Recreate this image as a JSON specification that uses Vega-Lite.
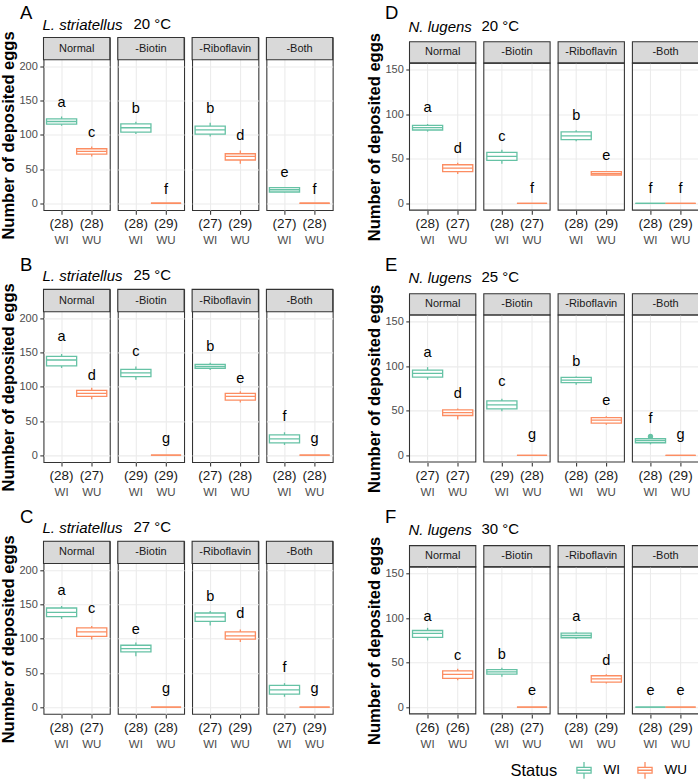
{
"$schema": "https://vega.github.io/schema/vega-lite/v6.json",
"background": "white",
"padding": {"left": 0.5, "top": 3.5, "right": 0, "bottom": 0},
"data": {"name": "boxes"},
"datasets": {"boxes": [
{"panel":"A","treatment":"Normal","status":"WI","n":28,"min":113.4,"q1":115.8,"median":119.7,"q3":123.6,"max":127,"label_y":146.5,"letter":"a"},
{"panel":"A","treatment":"Normal","status":"WU","n":28,"min":68.6,"q1":72,"median":75.9,"q3":79.8,"max":83.2,"label_y":103,"letter":"c"},
{"panel":"A","treatment":"-Biotin","status":"WI","n":28,"min":101.2,"q1":104.1,"median":110.5,"q3":116.3,"max":119.2,"label_y":138,"letter":"b"},
{"panel":"A","treatment":"-Biotin","status":"WU","n":29,"min":0,"q1":0,"median":0,"q3":0,"max":0,"label_y":20,"letter":"f"},
{"panel":"A","treatment":"-Riboflavin","status":"WI","n":27,"min":97.8,"q1":101.2,"median":107.5,"q3":112.9,"max":117.8,"label_y":138,"letter":"b"},
{"panel":"A","treatment":"-Riboflavin","status":"WU","n":29,"min":57.9,"q1":63.3,"median":68.6,"q3":72.5,"max":77.4,"label_y":98.8,"letter":"d"},
{"panel":"A","treatment":"-Both","status":"WI","n":27,"min":16,"q1":16.5,"median":19.8,"q3":22.9,"max":23.5,"label_y":43.8,"letter":"e"},
{"panel":"A","treatment":"-Both","status":"WU","n":28,"min":0,"q1":0,"median":0,"q3":0,"max":0,"label_y":20,"letter":"f"},
{"panel":"B","treatment":"Normal","status":"WI","n":28,"min":127.7,"q1":130.6,"median":139.3,"q3":144.7,"max":148.1,"label_y":172.3,"letter":"a"},
{"panel":"B","treatment":"Normal","status":"WU","n":27,"min":82,"q1":85.9,"median":90.3,"q3":94.7,"max":98.5,"label_y":116.5,"letter":"d"},
{"panel":"B","treatment":"-Biotin","status":"WI","n":29,"min":110.2,"q1":115,"median":120.4,"q3":125.7,"max":129.6,"label_y":151.5,"letter":"c"},
{"panel":"B","treatment":"-Biotin","status":"WU","n":29,"min":0,"q1":0,"median":0,"q3":0,"max":0,"label_y":24.3,"letter":"g"},
{"panel":"B","treatment":"-Riboflavin","status":"WI","n":27,"min":124.8,"q1":127.2,"median":130,"q3":133,"max":135.4,"label_y":157.8,"letter":"b"},
{"panel":"B","treatment":"-Riboflavin","status":"WU","n":28,"min":77.2,"q1":80.6,"median":85.9,"q3":90.3,"max":93.7,"label_y":112.1,"letter":"e"},
{"panel":"B","treatment":"-Both","status":"WI","n":28,"min":15,"q1":18,"median":23.8,"q3":29.6,"max":33.5,"label_y":55.8,"letter":"f"},
{"panel":"B","treatment":"-Both","status":"WU","n":28,"min":0,"q1":0,"median":0,"q3":0,"max":0,"label_y":24.3,"letter":"g"},
{"panel":"C","treatment":"Normal","status":"WI","n":28,"min":129,"q1":132.4,"median":138.7,"q3":145,"max":147.9,"label_y":169.3,"letter":"a"},
{"panel":"C","treatment":"Normal","status":"WU","n":27,"min":98.8,"q1":103.6,"median":110,"q3":115.8,"max":118.7,"label_y":143.6,"letter":"c"},
{"panel":"C","treatment":"-Biotin","status":"WI","n":28,"min":74.5,"q1":80.8,"median":85.6,"q3":90.5,"max":94.4,"label_y":113.4,"letter":"e"},
{"panel":"C","treatment":"-Biotin","status":"WU","n":28,"min":0,"q1":0,"median":0,"q3":0,"max":0,"label_y":25.8,"letter":"g"},
{"panel":"C","treatment":"-Riboflavin","status":"WI","n":27,"min":119.2,"q1":125.5,"median":131.9,"q3":137.7,"max":140.6,"label_y":160.6,"letter":"b"},
{"panel":"C","treatment":"-Riboflavin","status":"WU","n":29,"min":95.4,"q1":99.3,"median":104.1,"q3":110,"max":113.4,"label_y":136.3,"letter":"d"},
{"panel":"C","treatment":"-Both","status":"WI","n":27,"min":15.1,"q1":19,"median":25.3,"q3":31.6,"max":35,"label_y":57.4,"letter":"f"},
{"panel":"C","treatment":"-Both","status":"WU","n":29,"min":0,"q1":0,"median":0,"q3":0,"max":0,"label_y":25.8,"letter":"g"},
{"panel":"D","treatment":"Normal","status":"WI","n":28,"min":80.6,"q1":82.4,"median":85,"q3":87.6,"max":89.1,"label_y":106.6,"letter":"a"},
{"panel":"D","treatment":"Normal","status":"WU","n":27,"min":33,"q1":35.6,"median":39.7,"q3":43.4,"max":45.7,"label_y":61.3,"letter":"d"},
{"panel":"D","treatment":"-Biotin","status":"WI","n":28,"min":44.6,"q1":48.3,"median":52.7,"q3":57.2,"max":60.2,"label_y":74.3,"letter":"c"},
{"panel":"D","treatment":"-Biotin","status":"WU","n":27,"min":0,"q1":0,"median":0,"q3":0,"max":0,"label_y":16.3,"letter":"f"},
{"panel":"D","treatment":"-Riboflavin","status":"WI","n":28,"min":69.8,"q1":71.7,"median":75.8,"q3":80.2,"max":82.1,"label_y":97.7,"letter":"b"},
{"panel":"D","treatment":"-Riboflavin","status":"WU","n":29,"min":31.5,"q1":31.9,"median":33.5,"q3":35.6,"max":36,"label_y":52.7,"letter":"e"},
{"panel":"D","treatment":"-Both","status":"WI","n":28,"min":0,"q1":0,"median":0,"q3":0,"max":0,"label_y":16.3,"letter":"f"},
{"panel":"D","treatment":"-Both","status":"WU","n":29,"min":0,"q1":0,"median":0,"q3":0,"max":0,"label_y":16.3,"letter":"f"},
{"panel":"E","treatment":"Normal","status":"WI","n":27,"min":84.9,"q1":87.8,"median":91.9,"q3":95.6,"max":99,"label_y":114.3,"letter":"a"},
{"panel":"E","treatment":"Normal","status":"WU","n":27,"min":40.2,"q1":44.7,"median":48,"q3":51,"max":52.5,"label_y":69.2,"letter":"d"},
{"panel":"E","treatment":"-Biotin","status":"WI","n":29,"min":49.5,"q1":52.1,"median":56.6,"q3":61,"max":63.6,"label_y":81.9,"letter":"c"},
{"panel":"E","treatment":"-Biotin","status":"WU","n":28,"min":0,"q1":0,"median":0,"q3":0,"max":0,"label_y":22.7,"letter":"g"},
{"panel":"E","treatment":"-Riboflavin","status":"WI","n":28,"min":79.3,"q1":81.5,"median":84.5,"q3":87.5,"max":88.6,"label_y":105.3,"letter":"b"},
{"panel":"E","treatment":"-Riboflavin","status":"WU","n":28,"min":34.2,"q1":36.1,"median":39.4,"q3":42.4,"max":43.9,"label_y":60.7,"letter":"e"},
{"panel":"E","treatment":"-Both","status":"WI","n":28,"min":12.3,"q1":14.1,"median":16.5,"q3":18.6,"max":18.9,"outlier":21.2,"label_y":41.3,"letter":"f"},
{"panel":"E","treatment":"-Both","status":"WU","n":29,"min":0,"q1":0,"median":0,"q3":0,"max":0,"label_y":22.7,"letter":"g"},
{"panel":"F","treatment":"Normal","status":"WI","n":26,"min":75,"q1":78.4,"median":82.8,"q3":86.1,"max":89.1,"label_y":101.7,"letter":"a"},
{"panel":"F","treatment":"Normal","status":"WU","n":26,"min":30.4,"q1":32.3,"median":36.8,"q3":40.8,"max":43.1,"label_y":57.9,"letter":"c"},
{"panel":"F","treatment":"-Biotin","status":"WI","n":28,"min":34.2,"q1":37.1,"median":39.7,"q3":42.3,"max":44.2,"label_y":59,"letter":"b"},
{"panel":"F","treatment":"-Biotin","status":"WU","n":27,"min":0,"q1":0,"median":0,"q3":0,"max":0,"label_y":17.8,"letter":"e"},
{"panel":"F","treatment":"-Riboflavin","status":"WI","n":28,"min":76.5,"q1":78,"median":80.5,"q3":83.2,"max":84.7,"label_y":101.7,"letter":"a"},
{"panel":"F","treatment":"-Riboflavin","status":"WU","n":29,"min":26.7,"q1":28.2,"median":31.9,"q3":35.3,"max":37.1,"label_y":52.4,"letter":"d"},
{"panel":"F","treatment":"-Both","status":"WI","n":28,"min":0,"q1":0,"median":0,"q3":0,"max":0,"label_y":17.8,"letter":"e"},
{"panel":"F","treatment":"-Both","status":"WU","n":29,"min":0,"q1":0,"median":0,"q3":0,"max":0,"label_y":17.8,"letter":"e"}
]},
"config": {
 "font": "Liberation Sans",
 "view": {"stroke": "#333333", "strokeWidth": 1.07},
 "title": {"color": "black", "fontWeight": "normal", "font": "Liberation Sans"},
 "axisY": {"domain": false, "grid": true, "gridColor": "#ebebeb", "tickColor": "#333333", "tickSize": 3.7, "tickWidth": 1.07, "labelColor": "#4d4d4d", "labelFontSize": 11, "labelPadding": 2.5, "labelOverlap": false, "titleFontSize": 16.5, "titleFontWeight": "bold", "titleColor": "black", "titlePadding": 2},
 "axisX": {"domain": false, "tickColor": "#333333", "tickSize": 3.7, "tickWidth": 1.07, "labelColor": "#4d4d4d", "labelFontSize": 11.5, "labelPadding": 20.5, "labelAngle": 0}
},
"spacing": 8.9,
"vconcat": [
{"hconcat": [
 {"title": {"text": "A", "anchor": "start", "frame": "bounds", "fontSize": 18.5, "dx": 19, "offset": -5.9},
  "vconcat": [{
   "title": {"text": "20 °C", "anchor": "start", "frame": "group", "fontSize": 15, "baseline": "bottom", "dx": 90, "offset": -29},
   "transform": [{"filter": "datum.panel == 'A'"}],
   "facet": {"column": {"field": "treatment", "type": "nominal", "sort": ["Normal","-Biotin","-Riboflavin","-Both"], "header": {"title": "L. striatellus", "labels": false, "titleFontStyle": "italic", "titleAnchor": "start", "titleAlign": "left", "titleFontSize": 15, "titleFontWeight": "normal", "titleColor": "black", "titleBaseline": "bottom", "titlePadding": -20}}},
   "spacing": 7.3, "bounds": "flush",
   "spec": {"width": 66.3, "height": 172.6, "layer": [
    {"transform": [{"filter": "datum.status == 'WI'"}], "mark": {"type": "rect", "fill": "#d9d9d9", "stroke": "#333333", "strokeWidth": 1.07},
     "encoding": {"y": {"datum": 210, "type": "quantitative", "scale": {"domain": [-10, 242.6], "nice": false, "zero": false}, "axis": {"title": "Number of deposited eggs", "titleY": 97.5, "values": [0,25,50,75,100,125,150,175,200], "labelExpr": "datum.value % 50 == 0 ? datum.label : ''", "gridWidth": {"condition": {"test": "datum.value % 50 == 0", "value": 1.07}, "value": 0.55}, "tickOpacity": {"condition": {"test": "datum.value % 50 == 0", "value": 1}, "value": 0}}}, "y2": {"datum": 242.6}}},
    {"transform": [{"filter": "datum.status == 'WI'"}], "mark": {"type": "text", "fontSize": 11, "color": "#1a1a1a", "baseline": "middle"},
     "encoding": {"y": {"datum": 226.3, "type": "quantitative"}, "text": {"field": "treatment"}}},
    {"mark": {"type": "rule", "strokeWidth": 1.3},
     "encoding": {"x": {"field": "status", "type": "nominal", "scale": {"domain": ["WI","WU"], "paddingInner": 0, "paddingOuter": 0.1}, "axis": {"title": null, "bandPosition": 0.5, "grid": true, "gridColor": "#ebebeb", "gridWidth": 1.07, "tickExtra": false}}, "y": {"field": "min", "type": "quantitative"}, "y2": {"field": "max"}, "stroke": {"field": "status", "type": "nominal", "scale": {"domain": ["WI","WU"], "range": ["#66c2a5","#fc8d62"]}, "legend": {"title": "Status", "orient": "none", "legendX": 467, "legendY": 723, "direction": "horizontal", "titleOrient": "left", "titleFontSize": 16.5, "titleFontWeight": "normal", "titleColor": "black", "titlePadding": 17, "labelFontSize": 13.5, "labelColor": "black", "symbolType": "M-0.85,-0.35H0.85V0.35H-0.85Z M-0.85,0H0.85 M0,-1V-0.35 M0,0.35V1", "symbolSize": 279, "symbolStrokeWidth": 1.3, "symbolFillColor": "white", "columnPadding": 14, "labelOffset": 10}}}},
    {"mark": {"type": "bar", "fill": "white", "strokeWidth": 1.3},
     "encoding": {"x": {"field": "status", "type": "nominal"}, "y": {"field": "q1", "type": "quantitative"}, "y2": {"field": "q3"}, "stroke": {"field": "status", "type": "nominal"}}},
    {"mark": {"type": "bar", "fill": "transparent", "strokeWidth": 1.3},
     "encoding": {"x": {"field": "status", "type": "nominal"}, "y": {"field": "median", "type": "quantitative"}, "y2": {"field": "median"}, "stroke": {"field": "status", "type": "nominal"}}},
    {"mark": {"type": "circle", "color": "#66c2a5", "opacity": 1, "size": 28},
     "encoding": {"x": {"field": "status", "type": "nominal"}, "y": {"field": "outlier", "type": "quantitative"}}},
    {"mark": {"type": "text", "fontSize": 14.5, "color": "black", "baseline": "middle"},
     "encoding": {"x": {"field": "status", "type": "nominal"}, "y": {"field": "label_y", "type": "quantitative"}, "text": {"field": "letter"}}},
    {"transform": [{"calculate": "'(' + datum.n + ')'", "as": "n_label"}], "mark": {"type": "text", "fontSize": 13.5, "color": "#1a1a1a", "baseline": "middle", "dy": 13.9},
     "encoding": {"x": {"field": "status", "type": "nominal"}, "y": {"datum": -10, "type": "quantitative"}, "text": {"field": "n_label"}}}
   ]}
  }]},
 {"title": {"text": "D", "anchor": "start", "frame": "bounds", "fontSize": 18.5, "dx": 18, "offset": -4.3},
  "vconcat": [{
   "title": {"text": "20 °C", "anchor": "start", "frame": "group", "fontSize": 15, "baseline": "bottom", "dx": 72, "offset": -29},
   "transform": [{"filter": "datum.panel == 'D'"}],
   "facet": {"column": {"field": "treatment", "type": "nominal", "sort": ["Normal","-Biotin","-Riboflavin","-Both"], "header": {"title": "N. lugens", "labels": false, "titleFontStyle": "italic", "titleAnchor": "start", "titleAlign": "left", "titleFontSize": 15, "titleFontWeight": "normal", "titleColor": "black", "titleBaseline": "bottom", "titlePadding": -22}}},
   "spacing": 7.3, "bounds": "flush",
   "spec": {"width": 66.3, "height": 172.6, "view": {"stroke": null}, "layer": [
    {"transform": [{"filter": "datum.status == 'WI'"}], "mark": {"type": "rect", "fill": "#d9d9d9", "stroke": "#333333", "strokeWidth": 1.07},
     "encoding": {"y": {"datum": 157.5, "type": "quantitative", "scale": {"domain": [-7.5, 186.23], "nice": false, "zero": false}, "axis": {"title": "Number of deposited eggs", "titleY": 99.1, "values": [0,25,50,75,100,125,150], "labelExpr": "datum.value % 50 == 0 ? datum.label : ''", "gridWidth": {"condition": {"test": "datum.value % 50 == 0", "value": 1.07}, "value": 0.55}, "tickOpacity": {"condition": {"test": "datum.value % 50 == 0", "value": 1}, "value": 0}}}, "y2": {"datum": 181.4}}},
    {"transform": [{"filter": "datum.status == 'WI'"}], "mark": {"type": "text", "fontSize": 11, "color": "#1a1a1a", "baseline": "middle"},
     "encoding": {"y": {"datum": 169.45, "type": "quantitative"}, "text": {"field": "treatment"}}},
    {"mark": {"type": "rule", "color": "#ebebeb", "strokeWidth": 1.07},
     "encoding": {"x": {"field": "status", "type": "nominal", "scale": {"domain": ["WI","WU"], "paddingInner": 0, "paddingOuter": 0.1}, "axis": {"title": null, "bandPosition": 0.5, "grid": false, "tickExtra": false}}, "y": {"datum": -7.5, "type": "quantitative"}, "y2": {"datum": 157.5}}},
    {"mark": {"type": "rule", "strokeWidth": 1.3},
     "encoding": {"x": {"field": "status", "type": "nominal"}, "y": {"field": "min", "type": "quantitative"}, "y2": {"field": "max"}, "stroke": {"field": "status", "type": "nominal"}}},
    {"mark": {"type": "bar", "fill": "white", "strokeWidth": 1.3},
     "encoding": {"x": {"field": "status", "type": "nominal"}, "y": {"field": "q1", "type": "quantitative"}, "y2": {"field": "q3"}, "stroke": {"field": "status", "type": "nominal"}}},
    {"mark": {"type": "bar", "fill": "transparent", "strokeWidth": 1.3},
     "encoding": {"x": {"field": "status", "type": "nominal"}, "y": {"field": "median", "type": "quantitative"}, "y2": {"field": "median"}, "stroke": {"field": "status", "type": "nominal"}}},
    {"mark": {"type": "circle", "color": "#66c2a5", "opacity": 1, "size": 28},
     "encoding": {"x": {"field": "status", "type": "nominal"}, "y": {"field": "outlier", "type": "quantitative"}}},
    {"mark": {"type": "text", "fontSize": 14.5, "color": "black", "baseline": "middle"},
     "encoding": {"x": {"field": "status", "type": "nominal"}, "y": {"field": "label_y", "type": "quantitative"}, "text": {"field": "letter"}}},
    {"transform": [{"calculate": "'(' + datum.n + ')'", "as": "n_label"}], "mark": {"type": "text", "fontSize": 13.5, "color": "#1a1a1a", "baseline": "middle", "dy": 13.9},
     "encoding": {"x": {"field": "status", "type": "nominal"}, "y": {"datum": -7.5, "type": "quantitative"}, "text": {"field": "n_label"}}},
    {"transform": [{"filter": "datum.status == 'WI'"}], "mark": {"type": "rect", "fill": "transparent", "stroke": "#333333", "strokeWidth": 1.07},
     "encoding": {"y": {"datum": -7.5, "type": "quantitative"}, "y2": {"datum": 157.5}}}
   ]}
  }]}
], "spacing": 32},
{"hconcat": [
 {"title": {"text": "B", "anchor": "start", "frame": "bounds", "fontSize": 18.5, "dx": 19, "offset": -5.9},
  "vconcat": [{
   "title": {"text": "25 °C", "anchor": "start", "frame": "group", "fontSize": 15, "baseline": "bottom", "dx": 90, "offset": -29},
   "transform": [{"filter": "datum.panel == 'B'"}],
   "facet": {"column": {"field": "treatment", "type": "nominal", "sort": ["Normal","-Biotin","-Riboflavin","-Both"], "header": {"title": "L. striatellus", "labels": false, "titleFontStyle": "italic", "titleAnchor": "start", "titleAlign": "left", "titleFontSize": 15, "titleFontWeight": "normal", "titleColor": "black", "titleBaseline": "bottom", "titlePadding": -20}}},
   "spacing": 7.3, "bounds": "flush",
   "spec": {"width": 66.3, "height": 172.6, "layer": [
    {"transform": [{"filter": "datum.status == 'WI'"}], "mark": {"type": "rect", "fill": "#d9d9d9", "stroke": "#333333", "strokeWidth": 1.07},
     "encoding": {"y": {"datum": 210, "type": "quantitative", "scale": {"domain": [-10, 242.6], "nice": false, "zero": false}, "axis": {"title": "Number of deposited eggs", "titleY": 97.5, "values": [0,25,50,75,100,125,150,175,200], "labelExpr": "datum.value % 50 == 0 ? datum.label : ''", "gridWidth": {"condition": {"test": "datum.value % 50 == 0", "value": 1.07}, "value": 0.55}, "tickOpacity": {"condition": {"test": "datum.value % 50 == 0", "value": 1}, "value": 0}}}, "y2": {"datum": 242.6}}},
    {"transform": [{"filter": "datum.status == 'WI'"}], "mark": {"type": "text", "fontSize": 11, "color": "#1a1a1a", "baseline": "middle"},
     "encoding": {"y": {"datum": 226.3, "type": "quantitative"}, "text": {"field": "treatment"}}},
    {"mark": {"type": "rule", "strokeWidth": 1.3},
     "encoding": {"x": {"field": "status", "type": "nominal", "scale": {"domain": ["WI","WU"], "paddingInner": 0, "paddingOuter": 0.1}, "axis": {"title": null, "bandPosition": 0.5, "grid": true, "gridColor": "#ebebeb", "gridWidth": 1.07, "tickExtra": false}}, "y": {"field": "min", "type": "quantitative"}, "y2": {"field": "max"}, "stroke": {"field": "status", "type": "nominal"}}},
    {"mark": {"type": "bar", "fill": "white", "strokeWidth": 1.3},
     "encoding": {"x": {"field": "status", "type": "nominal"}, "y": {"field": "q1", "type": "quantitative"}, "y2": {"field": "q3"}, "stroke": {"field": "status", "type": "nominal"}}},
    {"mark": {"type": "bar", "fill": "transparent", "strokeWidth": 1.3},
     "encoding": {"x": {"field": "status", "type": "nominal"}, "y": {"field": "median", "type": "quantitative"}, "y2": {"field": "median"}, "stroke": {"field": "status", "type": "nominal"}}},
    {"mark": {"type": "circle", "color": "#66c2a5", "opacity": 1, "size": 28},
     "encoding": {"x": {"field": "status", "type": "nominal"}, "y": {"field": "outlier", "type": "quantitative"}}},
    {"mark": {"type": "text", "fontSize": 14.5, "color": "black", "baseline": "middle"},
     "encoding": {"x": {"field": "status", "type": "nominal"}, "y": {"field": "label_y", "type": "quantitative"}, "text": {"field": "letter"}}},
    {"transform": [{"calculate": "'(' + datum.n + ')'", "as": "n_label"}], "mark": {"type": "text", "fontSize": 13.5, "color": "#1a1a1a", "baseline": "middle", "dy": 13.9},
     "encoding": {"x": {"field": "status", "type": "nominal"}, "y": {"datum": -10, "type": "quantitative"}, "text": {"field": "n_label"}}}
   ]}
  }]},
 {"title": {"text": "E", "anchor": "start", "frame": "bounds", "fontSize": 18.5, "dx": 18, "offset": -4.3},
  "vconcat": [{
   "title": {"text": "25 °C", "anchor": "start", "frame": "group", "fontSize": 15, "baseline": "bottom", "dx": 72, "offset": -29},
   "transform": [{"filter": "datum.panel == 'E'"}],
   "facet": {"column": {"field": "treatment", "type": "nominal", "sort": ["Normal","-Biotin","-Riboflavin","-Both"], "header": {"title": "N. lugens", "labels": false, "titleFontStyle": "italic", "titleAnchor": "start", "titleAlign": "left", "titleFontSize": 15, "titleFontWeight": "normal", "titleColor": "black", "titleBaseline": "bottom", "titlePadding": -22}}},
   "spacing": 7.3, "bounds": "flush",
   "spec": {"width": 66.3, "height": 172.6, "view": {"stroke": null}, "layer": [
    {"transform": [{"filter": "datum.status == 'WI'"}], "mark": {"type": "rect", "fill": "#d9d9d9", "stroke": "#333333", "strokeWidth": 1.07},
     "encoding": {"y": {"datum": 157.5, "type": "quantitative", "scale": {"domain": [-7.5, 186.23], "nice": false, "zero": false}, "axis": {"title": "Number of deposited eggs", "titleY": 99.1, "values": [0,25,50,75,100,125,150], "labelExpr": "datum.value % 50 == 0 ? datum.label : ''", "gridWidth": {"condition": {"test": "datum.value % 50 == 0", "value": 1.07}, "value": 0.55}, "tickOpacity": {"condition": {"test": "datum.value % 50 == 0", "value": 1}, "value": 0}}}, "y2": {"datum": 181.4}}},
    {"transform": [{"filter": "datum.status == 'WI'"}], "mark": {"type": "text", "fontSize": 11, "color": "#1a1a1a", "baseline": "middle"},
     "encoding": {"y": {"datum": 169.45, "type": "quantitative"}, "text": {"field": "treatment"}}},
    {"mark": {"type": "rule", "color": "#ebebeb", "strokeWidth": 1.07},
     "encoding": {"x": {"field": "status", "type": "nominal", "scale": {"domain": ["WI","WU"], "paddingInner": 0, "paddingOuter": 0.1}, "axis": {"title": null, "bandPosition": 0.5, "grid": false, "tickExtra": false}}, "y": {"datum": -7.5, "type": "quantitative"}, "y2": {"datum": 157.5}}},
    {"mark": {"type": "rule", "strokeWidth": 1.3},
     "encoding": {"x": {"field": "status", "type": "nominal"}, "y": {"field": "min", "type": "quantitative"}, "y2": {"field": "max"}, "stroke": {"field": "status", "type": "nominal"}}},
    {"mark": {"type": "bar", "fill": "white", "strokeWidth": 1.3},
     "encoding": {"x": {"field": "status", "type": "nominal"}, "y": {"field": "q1", "type": "quantitative"}, "y2": {"field": "q3"}, "stroke": {"field": "status", "type": "nominal"}}},
    {"mark": {"type": "bar", "fill": "transparent", "strokeWidth": 1.3},
     "encoding": {"x": {"field": "status", "type": "nominal"}, "y": {"field": "median", "type": "quantitative"}, "y2": {"field": "median"}, "stroke": {"field": "status", "type": "nominal"}}},
    {"mark": {"type": "circle", "color": "#66c2a5", "opacity": 1, "size": 28},
     "encoding": {"x": {"field": "status", "type": "nominal"}, "y": {"field": "outlier", "type": "quantitative"}}},
    {"mark": {"type": "text", "fontSize": 14.5, "color": "black", "baseline": "middle"},
     "encoding": {"x": {"field": "status", "type": "nominal"}, "y": {"field": "label_y", "type": "quantitative"}, "text": {"field": "letter"}}},
    {"transform": [{"calculate": "'(' + datum.n + ')'", "as": "n_label"}], "mark": {"type": "text", "fontSize": 13.5, "color": "#1a1a1a", "baseline": "middle", "dy": 13.9},
     "encoding": {"x": {"field": "status", "type": "nominal"}, "y": {"datum": -7.5, "type": "quantitative"}, "text": {"field": "n_label"}}},
    {"transform": [{"filter": "datum.status == 'WI'"}], "mark": {"type": "rect", "fill": "transparent", "stroke": "#333333", "strokeWidth": 1.07},
     "encoding": {"y": {"datum": -7.5, "type": "quantitative"}, "y2": {"datum": 157.5}}}
   ]}
  }]}
], "spacing": 32},
{"hconcat": [
 {"title": {"text": "C", "anchor": "start", "frame": "bounds", "fontSize": 18.5, "dx": 19, "offset": -5.9},
  "vconcat": [{
   "title": {"text": "27 °C", "anchor": "start", "frame": "group", "fontSize": 15, "baseline": "bottom", "dx": 90, "offset": -29},
   "transform": [{"filter": "datum.panel == 'C'"}],
   "facet": {"column": {"field": "treatment", "type": "nominal", "sort": ["Normal","-Biotin","-Riboflavin","-Both"], "header": {"title": "L. striatellus", "labels": false, "titleFontStyle": "italic", "titleAnchor": "start", "titleAlign": "left", "titleFontSize": 15, "titleFontWeight": "normal", "titleColor": "black", "titleBaseline": "bottom", "titlePadding": -20}}},
   "spacing": 7.3, "bounds": "flush",
   "spec": {"width": 66.3, "height": 172.6, "layer": [
    {"transform": [{"filter": "datum.status == 'WI'"}], "mark": {"type": "rect", "fill": "#d9d9d9", "stroke": "#333333", "strokeWidth": 1.07},
     "encoding": {"y": {"datum": 210, "type": "quantitative", "scale": {"domain": [-10, 242.6], "nice": false, "zero": false}, "axis": {"title": "Number of deposited eggs", "titleY": 97.5, "values": [0,25,50,75,100,125,150,175,200], "labelExpr": "datum.value % 50 == 0 ? datum.label : ''", "gridWidth": {"condition": {"test": "datum.value % 50 == 0", "value": 1.07}, "value": 0.55}, "tickOpacity": {"condition": {"test": "datum.value % 50 == 0", "value": 1}, "value": 0}}}, "y2": {"datum": 242.6}}},
    {"transform": [{"filter": "datum.status == 'WI'"}], "mark": {"type": "text", "fontSize": 11, "color": "#1a1a1a", "baseline": "middle"},
     "encoding": {"y": {"datum": 226.3, "type": "quantitative"}, "text": {"field": "treatment"}}},
    {"mark": {"type": "rule", "strokeWidth": 1.3},
     "encoding": {"x": {"field": "status", "type": "nominal", "scale": {"domain": ["WI","WU"], "paddingInner": 0, "paddingOuter": 0.1}, "axis": {"title": null, "bandPosition": 0.5, "grid": true, "gridColor": "#ebebeb", "gridWidth": 1.07, "tickExtra": false}}, "y": {"field": "min", "type": "quantitative"}, "y2": {"field": "max"}, "stroke": {"field": "status", "type": "nominal"}}},
    {"mark": {"type": "bar", "fill": "white", "strokeWidth": 1.3},
     "encoding": {"x": {"field": "status", "type": "nominal"}, "y": {"field": "q1", "type": "quantitative"}, "y2": {"field": "q3"}, "stroke": {"field": "status", "type": "nominal"}}},
    {"mark": {"type": "bar", "fill": "transparent", "strokeWidth": 1.3},
     "encoding": {"x": {"field": "status", "type": "nominal"}, "y": {"field": "median", "type": "quantitative"}, "y2": {"field": "median"}, "stroke": {"field": "status", "type": "nominal"}}},
    {"mark": {"type": "circle", "color": "#66c2a5", "opacity": 1, "size": 28},
     "encoding": {"x": {"field": "status", "type": "nominal"}, "y": {"field": "outlier", "type": "quantitative"}}},
    {"mark": {"type": "text", "fontSize": 14.5, "color": "black", "baseline": "middle"},
     "encoding": {"x": {"field": "status", "type": "nominal"}, "y": {"field": "label_y", "type": "quantitative"}, "text": {"field": "letter"}}},
    {"transform": [{"calculate": "'(' + datum.n + ')'", "as": "n_label"}], "mark": {"type": "text", "fontSize": 13.5, "color": "#1a1a1a", "baseline": "middle", "dy": 13.9},
     "encoding": {"x": {"field": "status", "type": "nominal"}, "y": {"datum": -10, "type": "quantitative"}, "text": {"field": "n_label"}}}
   ]}
  }]},
 {"title": {"text": "F", "anchor": "start", "frame": "bounds", "fontSize": 18.5, "dx": 18, "offset": -4.3},
  "vconcat": [{
   "title": {"text": "30 °C", "anchor": "start", "frame": "group", "fontSize": 15, "baseline": "bottom", "dx": 72, "offset": -29},
   "transform": [{"filter": "datum.panel == 'F'"}],
   "facet": {"column": {"field": "treatment", "type": "nominal", "sort": ["Normal","-Biotin","-Riboflavin","-Both"], "header": {"title": "N. lugens", "labels": false, "titleFontStyle": "italic", "titleAnchor": "start", "titleAlign": "left", "titleFontSize": 15, "titleFontWeight": "normal", "titleColor": "black", "titleBaseline": "bottom", "titlePadding": -22}}},
   "spacing": 7.3, "bounds": "flush",
   "spec": {"width": 66.3, "height": 172.6, "view": {"stroke": null}, "layer": [
    {"transform": [{"filter": "datum.status == 'WI'"}], "mark": {"type": "rect", "fill": "#d9d9d9", "stroke": "#333333", "strokeWidth": 1.07},
     "encoding": {"y": {"datum": 157.5, "type": "quantitative", "scale": {"domain": [-7.5, 186.23], "nice": false, "zero": false}, "axis": {"title": "Number of deposited eggs", "titleY": 99.1, "values": [0,25,50,75,100,125,150], "labelExpr": "datum.value % 50 == 0 ? datum.label : ''", "gridWidth": {"condition": {"test": "datum.value % 50 == 0", "value": 1.07}, "value": 0.55}, "tickOpacity": {"condition": {"test": "datum.value % 50 == 0", "value": 1}, "value": 0}}}, "y2": {"datum": 181.4}}},
    {"transform": [{"filter": "datum.status == 'WI'"}], "mark": {"type": "text", "fontSize": 11, "color": "#1a1a1a", "baseline": "middle"},
     "encoding": {"y": {"datum": 169.45, "type": "quantitative"}, "text": {"field": "treatment"}}},
    {"mark": {"type": "rule", "color": "#ebebeb", "strokeWidth": 1.07},
     "encoding": {"x": {"field": "status", "type": "nominal", "scale": {"domain": ["WI","WU"], "paddingInner": 0, "paddingOuter": 0.1}, "axis": {"title": null, "bandPosition": 0.5, "grid": false, "tickExtra": false}}, "y": {"datum": -7.5, "type": "quantitative"}, "y2": {"datum": 157.5}}},
    {"mark": {"type": "rule", "strokeWidth": 1.3},
     "encoding": {"x": {"field": "status", "type": "nominal"}, "y": {"field": "min", "type": "quantitative"}, "y2": {"field": "max"}, "stroke": {"field": "status", "type": "nominal"}}},
    {"mark": {"type": "bar", "fill": "white", "strokeWidth": 1.3},
     "encoding": {"x": {"field": "status", "type": "nominal"}, "y": {"field": "q1", "type": "quantitative"}, "y2": {"field": "q3"}, "stroke": {"field": "status", "type": "nominal"}}},
    {"mark": {"type": "bar", "fill": "transparent", "strokeWidth": 1.3},
     "encoding": {"x": {"field": "status", "type": "nominal"}, "y": {"field": "median", "type": "quantitative"}, "y2": {"field": "median"}, "stroke": {"field": "status", "type": "nominal"}}},
    {"mark": {"type": "circle", "color": "#66c2a5", "opacity": 1, "size": 28},
     "encoding": {"x": {"field": "status", "type": "nominal"}, "y": {"field": "outlier", "type": "quantitative"}}},
    {"mark": {"type": "text", "fontSize": 14.5, "color": "black", "baseline": "middle"},
     "encoding": {"x": {"field": "status", "type": "nominal"}, "y": {"field": "label_y", "type": "quantitative"}, "text": {"field": "letter"}}},
    {"transform": [{"calculate": "'(' + datum.n + ')'", "as": "n_label"}], "mark": {"type": "text", "fontSize": 13.5, "color": "#1a1a1a", "baseline": "middle", "dy": 13.9},
     "encoding": {"x": {"field": "status", "type": "nominal"}, "y": {"datum": -7.5, "type": "quantitative"}, "text": {"field": "n_label"}}},
    {"transform": [{"filter": "datum.status == 'WI'"}], "mark": {"type": "rect", "fill": "transparent", "stroke": "#333333", "strokeWidth": 1.07},
     "encoding": {"y": {"datum": -7.5, "type": "quantitative"}, "y2": {"datum": 157.5}}}
   ]}
  }]}
], "spacing": 32}
]
}
